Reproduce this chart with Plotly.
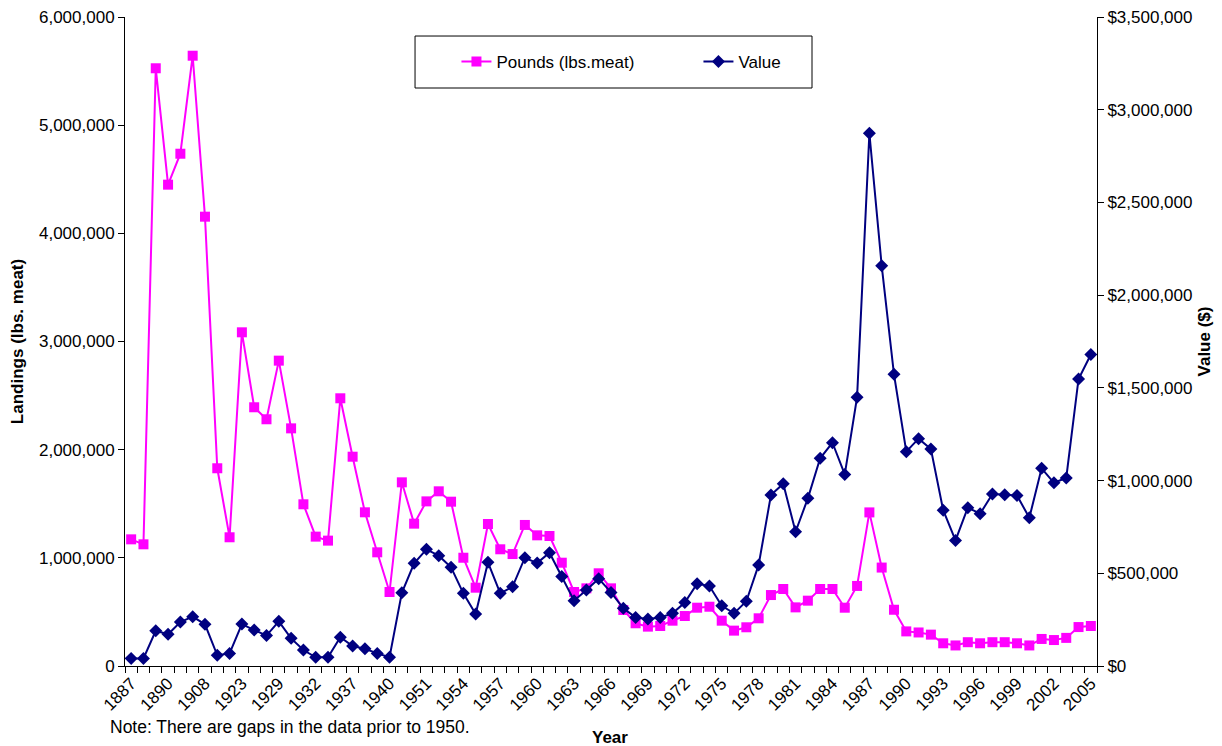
import plotly.graph_objects as go

years = ['1887', '1888', '1889', '1890', '1897', '1902', '1908', '1918', '1919', '1923',
         '1926', '1927', '1929', '1930', '1931', '1932', '1934', '1935', '1937', '1938',
         '1939', '1940', '1945', '1950', '1951', '1952', '1953', '1954', '1955', '1956',
         '1957', '1958', '1959', '1960', '1961', '1962', '1963', '1964', '1965', '1966',
         '1967', '1968', '1969', '1970', '1971', '1972', '1973', '1974', '1975', '1976',
         '1977', '1978', '1979', '1980', '1981', '1982', '1983', '1984', '1985', '1986',
         '1987', '1988', '1989', '1990', '1991', '1992', '1993', '1994', '1995', '1996',
         '1997', '1998', '1999', '2000', '2001', '2002', '2003', '2004', '2005']

pounds = [1171000, 1125000, 5526000, 4450000, 4736000, 5642000, 4154000, 1828000, 1190000, 3085000,
          2392000, 2281000, 2823000, 2197000, 1495000, 1196000, 1159000, 2475000, 1935000, 1421000,
          1051000, 684000, 1698000, 1316000, 1522000, 1615000, 1519000, 1001000, 724000, 1313000,
          1079000, 1035000, 1304000, 1208000, 1202000, 955000, 684000, 718000, 857000, 718000,
          518000, 395000, 364000, 370000, 419000, 462000, 539000, 548000, 419000, 327000,
          358000, 441000, 656000, 712000, 542000, 604000, 712000, 712000, 539000, 740000,
          1420000, 910000, 520000, 320000, 310000, 290000, 210000, 190000, 220000, 210000,
          220000, 220000, 210000, 190000, 250000, 240000, 260000, 360000, 370000]

value = [41000, 41000, 190000, 171000, 237000, 266000, 225000, 58000, 68000, 226000,
         194000, 164000, 241000, 149000, 86000, 47000, 47000, 155000, 108000, 93000,
         68000, 47000, 395000, 554000, 629000, 595000, 532000, 392000, 280000, 559000,
         392000, 428000, 584000, 555000, 611000, 482000, 352000, 410000, 471000, 397000,
         311000, 262000, 253000, 262000, 284000, 342000, 444000, 431000, 325000, 284000,
         349000, 545000, 922000, 983000, 724000, 904000, 1120000, 1204000, 1033000, 1450000,
         2873000, 2159000, 1573000, 1156000, 1226000, 1170000, 840000, 677000, 854000, 821000,
         928000, 924000, 920000, 799000, 1066000, 988000, 1014000, 1548000, 1680000]

tick_text = [y if i % 3 == 0 else '' for i, y in enumerate(years)]

FONT = 'Liberation Sans, Arial, sans-serif'

fig = go.Figure()
fig.add_trace(go.Scatter(
    x=years, y=pounds, name='Pounds (lbs.meat)', mode='lines+markers',
    line=dict(color='#FF00FF', width=2),
    marker=dict(symbol='square', size=10, color='#FF00FF'),
    yaxis='y'))
fig.add_trace(go.Scatter(
    x=years, y=value, name='Value', mode='lines+markers',
    line=dict(color='#000080', width=2),
    marker=dict(symbol='diamond', size=10, color='#000080'),
    yaxis='y2'))

fig.update_layout(
    width=1214, height=738,
    margin=dict(l=117, r=125, t=9, b=80),
    paper_bgcolor='white', plot_bgcolor='white',
    font=dict(family=FONT, size=17, color='black'),
    showlegend=True,
    legend=dict(orientation='h', x=0.341, xanchor='left', y=0.9307, yanchor='middle',
                bgcolor='rgba(0,0,0,0)', borderwidth=0, entrywidth=197,
                font=dict(family=FONT, size=17, color='black')),
    xaxis=dict(type='category', tickmode='array', tickvals=years, ticktext=tick_text,
               tickangle=-45, ticks='outside', ticklen=6, tickson='boundaries',
               tickcolor='black', showline=True, linecolor='black', linewidth=1,
               showgrid=False, zeroline=False, range=[-0.5, len(years) - 0.5],
               automargin=False, ticklabeloverflow='allow', tickfont=dict(size=17)),
    yaxis=dict(range=[0, 6000000], dtick=1000000, tickformat=',', ticks='outside',
               ticklen=6, tickcolor='black', showline=True, linecolor='black', linewidth=1,
               showgrid=False, zeroline=False, automargin=False, ticklabeloverflow='allow',
               tickfont=dict(size=17),
               title=dict(text='<b>Landings (lbs. meat)</b>', standoff=12,
                          font=dict(size=17))),
    yaxis2=dict(range=[0, 3500000], dtick=500000, tickformat=',', tickprefix='$',
                overlaying='y', side='right', ticks='outside', ticklen=6, tickcolor='black',
                showline=True, linecolor='black', linewidth=1, showgrid=False, zeroline=False,
                automargin=False, ticklabeloverflow='allow', tickfont=dict(size=17),
                title=dict(text='<b>Value ($)</b>', standoff=6, font=dict(size=17))),
    shapes=[dict(type='rect', xref='paper', yref='paper',
                 x0=0.2984, x1=0.7068, y0=0.8906, y1=0.9707,
                 line=dict(color='black', width=1), fillcolor='rgba(0,0,0,0)')],
    annotations=[
        dict(text='Note: There are gaps in the data prior to 1950.', xref='paper', yref='paper',
             x=-0.0175, y=-0.094, xanchor='left', yanchor='middle', showarrow=False,
             font=dict(size=17.5)),
        dict(text='<b>Year</b>', xref='paper', yref='paper', x=0.499, y=-0.1094,
             xanchor='center', yanchor='middle', showarrow=False, font=dict(size=17)),
    ],
)

fig.write_html('out.html')
